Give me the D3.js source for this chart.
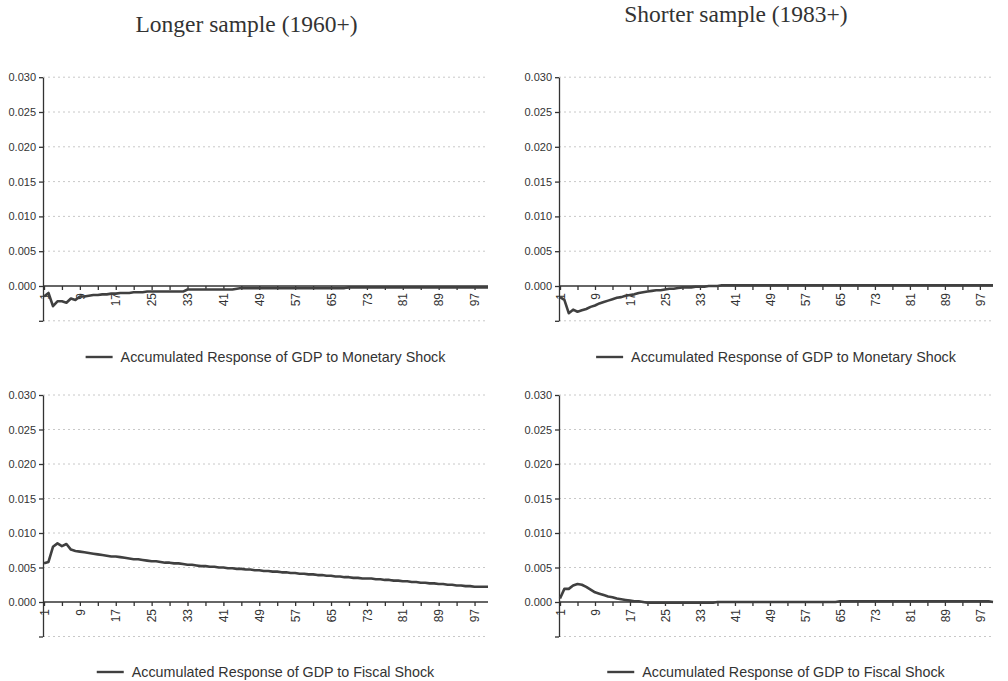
<!DOCTYPE html>
<html>
<head>
<meta charset="utf-8">
<script src="https://cdn.jsdelivr.net/npm/d3@7"></script>
<style>
  body { margin: 0; background: #fff; }
  svg { display: block; }
</style>
</head>
<body>
<div class="chart"></div>
<script>
// accumulated impulse responses, periods 1..100
const monetaryLong = [
	-0.0015, -0.0010, -0.0029, -0.0022, -0.0022, -0.0024, -0.0018, -0.0020, -0.0015, -0.0015,
	-0.0014, -0.0013, -0.0013, -0.0012, -0.0012, -0.0011, -0.0011, -0.0010, -0.0010, -0.0010,
	-0.0009, -0.0009, -0.0009, -0.0008, -0.0008, -0.0008, -0.0008, -0.0008, -0.0008, -0.0008,
	-0.0008, -0.0008, -0.0005, -0.0005, -0.0005, -0.0005, -0.0005, -0.0005, -0.0005, -0.0005,
	-0.0005, -0.0005, -0.0005, -0.0004, -0.0003, -0.0003, -0.0003, -0.0003, -0.0003, -0.0003,
	-0.0003, -0.0003, -0.0003, -0.0003, -0.0003, -0.0003, -0.0003, -0.0003, -0.0003, -0.0003,
	-0.0003, -0.0003, -0.0003, -0.0003, -0.0003, -0.0003, -0.0003, -0.0003, -0.0002, -0.0002,
	-0.0002, -0.0002, -0.0002, -0.0002, -0.0002, -0.0002, -0.0002, -0.0002, -0.0002, -0.0002,
	-0.0002, -0.0002, -0.0002, -0.0002, -0.0002, -0.0002, -0.0002, -0.0002, -0.0002, -0.0002,
	-0.0002, -0.0002, -0.0002, -0.0002, -0.0002, -0.0002, -0.0002, -0.0002, -0.0002, -0.0002
];
const monetaryShort = [
	-0.0016, -0.0020, -0.0039, -0.0034, -0.0037, -0.0035, -0.0033, -0.0030, -0.0028, -0.0025,
	-0.0023, -0.0021, -0.0019, -0.0017, -0.0016, -0.0014, -0.0013, -0.0012, -0.0010, -0.0009,
	-0.0008, -0.0007, -0.0006, -0.0006, -0.0005, -0.0004, -0.0004, -0.0003, -0.0002, -0.0002,
	-0.0002, -0.0001, -0.0001, -0.0001, 0.0000, 0.0000, 0.0000, 0.0001, 0.0001, 0.0001,
	0.0001, 0.0001, 0.0001, 0.0001, 0.0001, 0.0001, 0.0001, 0.0001, 0.0001, 0.0001,
	0.0001, 0.0001, 0.0001, 0.0001, 0.0001, 0.0001, 0.0001, 0.0001, 0.0001, 0.0001,
	0.0001, 0.0001, 0.0001, 0.0001, 0.0001, 0.0001, 0.0001, 0.0001, 0.0001, 0.0001,
	0.0001, 0.0001, 0.0001, 0.0001, 0.0001, 0.0001, 0.0001, 0.0001, 0.0001, 0.0001,
	0.0001, 0.0001, 0.0001, 0.0001, 0.0001, 0.0001, 0.0001, 0.0001, 0.0001, 0.0001,
	0.0001, 0.0001, 0.0001, 0.0001, 0.0001, 0.0001, 0.0001, 0.0001, 0.0001, 0.0001
];
const fiscalLong = [
	0.0056, 0.0058, 0.0080, 0.0085, 0.0081, 0.0084, 0.0076, 0.0074, 0.0073, 0.0072,
	0.0071, 0.0070, 0.0069, 0.0068, 0.0067, 0.0066, 0.0066, 0.0065, 0.0064, 0.0063,
	0.0062, 0.0062, 0.0061, 0.0060, 0.0059, 0.0059, 0.0058, 0.0057, 0.0057, 0.0056,
	0.0056, 0.0055, 0.0054, 0.0054, 0.0053, 0.0052, 0.0052, 0.0051, 0.0051, 0.0050,
	0.0050, 0.0049, 0.0049, 0.0048, 0.0048, 0.0047, 0.0047, 0.0046, 0.0046, 0.0045,
	0.0045, 0.0044, 0.0044, 0.0043, 0.0043, 0.0042, 0.0042, 0.0041, 0.0041, 0.0040,
	0.0040, 0.0039, 0.0039, 0.0038, 0.0038, 0.0037, 0.0037, 0.0036, 0.0036, 0.0035,
	0.0035, 0.0034, 0.0034, 0.0034, 0.0033, 0.0033, 0.0032, 0.0032, 0.0031, 0.0031,
	0.0030, 0.0030, 0.0029, 0.0029, 0.0028, 0.0028, 0.0027, 0.0027, 0.0026, 0.0026,
	0.0025, 0.0025, 0.0024, 0.0024, 0.0023, 0.0023, 0.0022, 0.0022, 0.0022, 0.0022
];
const fiscalShort = [
	0.0005, 0.0019, 0.0019, 0.0024, 0.0026, 0.0025, 0.0022, 0.0018, 0.0014, 0.0012,
	0.0010, 0.0008, 0.0007, 0.0005, 0.0004, 0.0003, 0.0002, 0.0001, 0.0001, 0.0000,
	-0.0001, -0.0001, -0.0001, -0.0001, -0.0001, -0.0001, -0.0001, -0.0001, -0.0001, -0.0001,
	-0.0001, -0.0001, -0.0001, -0.0001, -0.0001, -0.0001, 0.0000, 0.0000, 0.0000, 0.0000,
	0.0000, 0.0000, 0.0000, 0.0000, 0.0000, 0.0000, 0.0000, 0.0000, 0.0000, 0.0000,
	0.0000, 0.0000, 0.0000, 0.0000, 0.0000, 0.0000, 0.0000, 0.0000, 0.0000, 0.0000,
	0.0000, 0.0000, 0.0000, 0.0000, 0.0001, 0.0001, 0.0001, 0.0001, 0.0001, 0.0001,
	0.0001, 0.0001, 0.0001, 0.0001, 0.0001, 0.0001, 0.0001, 0.0001, 0.0001, 0.0001,
	0.0001, 0.0001, 0.0001, 0.0001, 0.0001, 0.0001, 0.0001, 0.0001, 0.0001, 0.0001,
	0.0001, 0.0001, 0.0001, 0.0001, 0.0001, 0.0001, 0.0001, 0.0001, 0.0001, 0.0000
];

const yTicks = [-0.005, 0.000, 0.005, 0.010, 0.015, 0.020, 0.025, 0.030];
const xLabels = [1, 9, 17, 25, 33, 41, 49, 57, 65, 73, 81, 89, 97];
const titles = ["Longer sample (1960+)", "Shorter sample (1983+)"];
const legends = ["Accumulated Response of GDP to Monetary Shock", "Accumulated Response of GDP to Fiscal Shock"];

const width = 1008;
const height = 681;

const svg = d3.select('.chart')
	.append('svg')
	.attr('width', width)
	.attr('height', height);

// column / row geometry
const cols = [
	{ x0: 43, x1: 488, titleX: 246.5, titleY: 32 },
	{ x0: 559, x1: 993, titleX: 736, titleY: 22 }
];
const rows = [
	{ top: 77.2, bottom: 320.8, legendY: 357 },
	{ top: 395, bottom: 636.5, legendY: 672 }
];

svg.selectAll('.title')
	.data(titles)
	.enter()
	.append('text')
	.attr('x', (d, i) => cols[i].titleX)
	.attr('y', (d, i) => cols[i].titleY)
	.attr('text-anchor', 'middle')
	.style('font-family', '"Liberation Serif", "DejaVu Serif", serif')
	.style('font-size', '23.5px')
	.style('fill', '#333')
	.text(d => d);

const panels = [
	{ data: monetaryLong, col: 0, row: 0, legend: legends[0] },
	{ data: monetaryShort, col: 1, row: 0, legend: legends[0] },
	{ data: fiscalLong, col: 0, row: 1, legend: legends[1] },
	{ data: fiscalShort, col: 1, row: 1, legend: legends[1] }
];

panels.forEach(p => drawPanel(p));

function drawPanel(p) {
	const c = cols[p.col];
	const r = rows[p.row];
	const x = d3.scaleLinear().domain([1, 100]).range([c.x0 + 1, c.x1]);
	const y = d3.scaleLinear().domain([-0.005, 0.030]).range([r.bottom, r.top]);
	const g = svg.append('g');

	// dotted grid
	g.selectAll('.grid')
		.data(yTicks.filter(d => d != 0))
		.enter()
		.append('line')
		.attr('x1', c.x0)
		.attr('x2', c.x1)
		.attr('y1', d => y(d))
		.attr('y2', d => y(d))
		.style('stroke', '#c8c8c8')
		.style('stroke-width', 1)
		.style('stroke-dasharray', '2,3');

	// y axis
	const yAxis = g.append('g')
		.attr('transform', `translate(${c.x0},0)`)
		.call(d3.axisLeft(y)
			.tickValues(yTicks)
			.tickSize(4)
			.tickSizeOuter(0)
			.tickFormat(d => (d < 0 ? '' : d3.format('.3f')(d))));
	yAxis.selectAll('text')
		.style('font-family', '"Liberation Sans", Arial, sans-serif')
		.style('font-size', '11px')
		.style('fill', '#333');
	yAxis.selectAll('line, path').style('stroke', '#333').style('stroke-width', 1.3);

	// x axis on the zero line
	const xAxis = g.append('g')
		.attr('transform', `translate(0,${y(0)})`)
		.call(d3.axisBottom(x)
			.tickValues(d3.range(1, 101, 4))
			.tickSize(4)
			.tickSizeOuter(0)
			.tickFormat(d => (xLabels.includes(d) ? d : '')));
	xAxis.select('.domain')
		.attr('d', `M${c.x0},0H${c.x1}`);
	xAxis.selectAll('line, path').style('stroke', '#333').style('stroke-width', 1.3);
	xAxis.selectAll('text')
		.attr('transform', 'rotate(-90)')
		.attr('x', -7)
		.attr('y', 0)
		.attr('dy', '0.35em')
		.style('text-anchor', 'end')
		.style('font-family', '"Liberation Sans", Arial, sans-serif')
		.style('font-size', '12px')
		.style('fill', '#333');

	// response line
	const line = d3.line()
		.x((d, i) => x(i + 1))
		.y(d => y(d));
	g.append('path')
		.datum(p.data)
		.attr('d', line)
		.style('fill', 'none')
		.style('stroke', '#404040')
		.style('stroke-width', 2.6)
		.style('stroke-linejoin', 'round');

	// legend, centred under the plot
	const lg = g.append('g');
	const lt = lg.append('text')
		.attr('x', 35)
		.attr('y', 0)
		.attr('dy', '0.35em')
		.style('font-family', '"Liberation Sans", Arial, sans-serif')
		.style('font-size', '14.3px')
		.style('fill', '#333')
		.text(p.legend);
	lg.append('line')
		.attr('x1', 0)
		.attr('x2', 27)
		.attr('y1', 0)
		.attr('y2', 0)
		.style('stroke', '#404040')
		.style('stroke-width', 2.4);
	const w = 35 + lt.node().getComputedTextLength();
	const cx = (c.x0 + c.x1) / 2;
	lg.attr('transform', `translate(${cx - w / 2},${r.legendY})`);
}
</script>
</body>
</html>
